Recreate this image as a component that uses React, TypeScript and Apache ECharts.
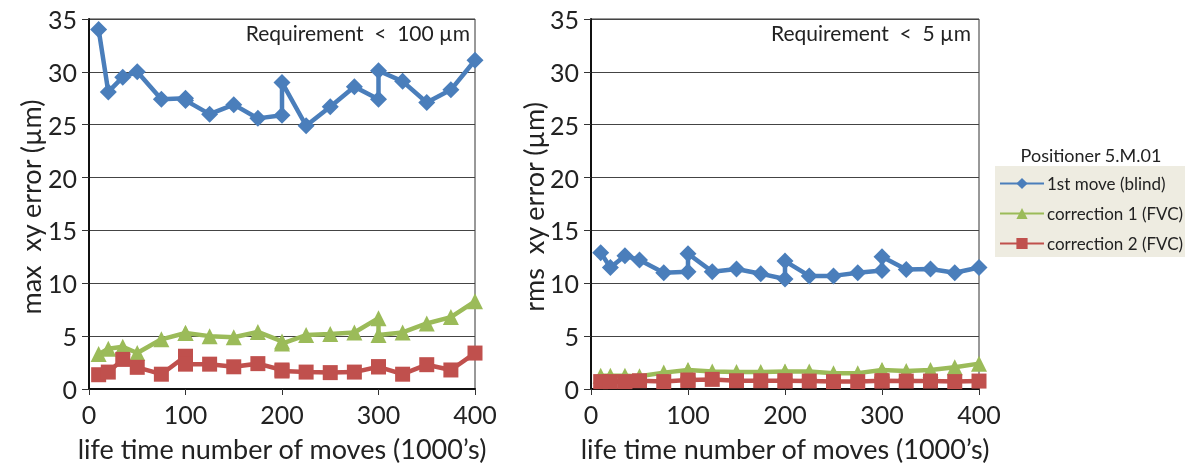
import React, { useEffect, useRef } from "react";
import * as echarts from "echarts";

const moves = [10, 20, 35, 50, 75, 100, 100, 125, 150, 175, 200, 200, 225, 250, 275, 300, 300, 325, 350, 375, 400];

const maxBlind = [34.0, 28.1, 29.5, 30.0, 27.4, 27.5, 27.3, 26.0, 26.9, 25.6, 25.9, 29.0, 24.9, 26.7, 28.6, 27.4, 30.1, 29.1, 27.1, 28.3, 31.1];
const maxCorr1 = [3.3, 3.8, 4.0, 3.4, 4.7, 5.3, 5.3, 5.0, 4.9, 5.4, 4.5, 4.3, 5.1, 5.2, 5.35, 6.7, 5.1, 5.35, 6.2, 6.8, 8.3];
const maxCorr2 = [1.35, 1.6, 2.8, 2.05, 1.4, 3.1, 2.35, 2.35, 2.1, 2.4, 1.8, 1.7, 1.6, 1.55, 1.6, 2.1, 2.1, 1.4, 2.3, 1.8, 3.4];

const rmsBlind = [12.9, 11.5, 12.6, 12.2, 11.0, 11.1, 12.8, 11.1, 11.35, 10.9, 10.4, 12.1, 10.7, 10.7, 11.0, 11.2, 12.5, 11.3, 11.35, 11.0, 11.5];
const rmsCorr1 = [1.25, 1.25, 1.25, 1.2, 1.55, 1.8, 1.75, 1.65, 1.6, 1.6, 1.65, 1.6, 1.65, 1.5, 1.5, 1.8, 1.75, 1.7, 1.8, 2.06, 2.4];
const rmsCorr2 = [0.7, 0.7, 0.7, 0.78, 0.7, 0.85, 0.8, 0.91, 0.78, 0.78, 0.78, 0.75, 0.75, 0.7, 0.7, 0.78, 0.75, 0.75, 0.75, 0.7, 0.75];

const seriesNames = ["1st move (blind)", "correction 1 (FVC)", "correction 2 (FVC)"];
const yAxisNames = ["max  xy error (\u00b5m)", "rms  xy error (\u00b5m)"];
const xAxisName = "life time number of moves (1000\u2019s)";
const requirements = ["Requirement  <  100 \u00b5m", "Requirement  <  5 \u00b5m"];
const legendTitle = "Positioner 5.M.01";

const FONT = "Lato";
const TXT = "#222";
const colors = ["#4a7ebb", "#9bbb59", "#c0504d"];
const symbols = ["diamond", "triangle", "rect"];
const symbolSizes = [17, 16, 15];

export default function App() {
  const ref = useRef<HTMLDivElement>(null);
  useEffect(() => {
    if (!ref.current) return;
    const chart = echarts.init(ref.current, null, { renderer: "svg" });
    const pair = (vals: number[]) => moves.map((m, i) => [m, vals[i]]);
    const grids = [
      { left: 89, right: 710, top: 19, bottom: 76 },
      { left: 591, right: 206, top: 19, bottom: 76 },
    ].map((g) => ({ ...g, show: true, borderColor: "#333", borderWidth: 1, backgroundColor: "transparent" }));

    const xAxes = [0, 1].map((i) => ({
      type: "value",
      gridIndex: i,
      min: 0,
      max: 400,
      interval: 100,
      name: xAxisName,
      nameLocation: "middle",
      nameGap: 46,
      nameTextStyle: { fontFamily: FONT, fontSize: 27, color: TXT },
      axisLine: { show: true, onZero: false, lineStyle: { color: "#111", width: 2 } },
      axisTick: { show: true, length: 6, lineStyle: { color: "#333", width: 1 } },
      axisLabel: { fontFamily: FONT, fontSize: 25, color: TXT, margin: 12 },
      splitLine: { show: false },
    }));
    const yAxes = [0, 1].map((i) => ({
      type: "value",
      gridIndex: i,
      min: 0,
      max: 35,
      interval: 5,
      axisLine: { show: true, onZero: false, lineStyle: { color: "#111", width: 2 } },
      axisTick: { show: true, length: 7, lineStyle: { color: "#333", width: 1 } },
      axisLabel: { fontFamily: FONT, fontSize: 25, color: TXT, margin: 12 },
      splitLine: { show: true, lineStyle: { color: "#444", width: 1 } },
    }));

    const mk = (name: string, idx: number, vals: number[], axis: number) => ({
      name,
      type: "line",
      xAxisIndex: axis,
      yAxisIndex: axis,
      data: pair(vals),
      symbol: symbols[idx],
      symbolSize: symbolSizes[idx],
      lineStyle: { color: colors[idx], width: 4.5 },
      itemStyle: { color: colors[idx] },
      z: 3 + idx,
    });

    const series = [
      mk(seriesNames[0], 0, maxBlind, 0),
      mk(seriesNames[1], 1, maxCorr1, 0),
      mk(seriesNames[2], 2, maxCorr2, 0),
      mk(seriesNames[0], 0, rmsBlind, 1),
      mk(seriesNames[1], 1, rmsCorr1, 1),
      mk(seriesNames[2], 2, rmsCorr2, 1),
    ];

    const vText = (text: string, x: number) => ({
      type: "text",
      x,
      y: 207,
      rotation: Math.PI / 2,
      style: { text, font: `27px ${FONT}`, fill: TXT, textAlign: "center", textVerticalAlign: "middle" },
    });

    chart.setOption({
      animation: false,
      textStyle: { fontFamily: FONT },
      grid: grids,
      xAxis: xAxes,
      yAxis: yAxes,
      legend: {
        data: seriesNames,
        orient: "vertical",
        left: 995,
        top: 166,
        width: 190,
        backgroundColor: "#eeece1",
        padding: [9, 6, 5, 4],
        itemWidth: 44,
        itemHeight: 14,
        itemGap: 13,
        textStyle: { fontFamily: FONT, fontSize: 17, color: TXT, padding: [0, 0, 0, -2] },
      },
      graphic: [
        { type: "text", x: 470, y: 32, style: { text: requirements[0], font: `21px ${FONT}`, fill: TXT, textAlign: "right", textVerticalAlign: "middle" } },
        { type: "text", x: 971, y: 32, style: { text: requirements[1], font: `21px ${FONT}`, fill: TXT, textAlign: "right", textVerticalAlign: "middle" } },
        { type: "text", x: 1091, y: 155, style: { text: legendTitle, font: `18px ${FONT}`, fill: TXT, textAlign: "center", textVerticalAlign: "middle" } },
        vText(yAxisNames[0], 30),
        vText(yAxisNames[1], 533),
      ],
      series,
    });
    return () => chart.dispose();
  }, []);
  return <div ref={ref} style={{ position: "fixed", left: 0, top: 0, width: 1185, height: 467 }} />;
}
